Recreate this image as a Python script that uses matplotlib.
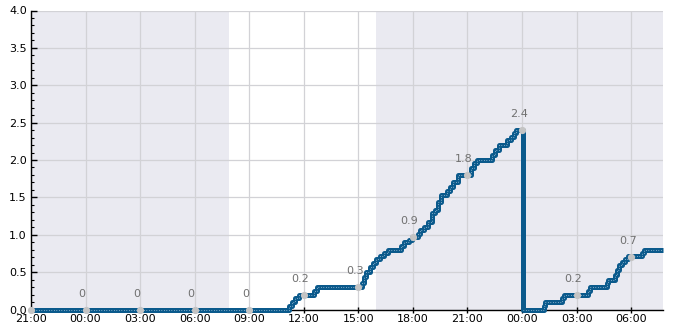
import matplotlib
matplotlib.use("Agg")
import matplotlib.pyplot as plt
import matplotlib.dates as mdates
import pandas as pd
from matplotlib.ticker import MultipleLocator

# ---- data ----
step_times = [
    "2024-01-01 21:00", "2024-01-02 11:11", "2024-01-02 11:22", "2024-01-02 11:32",
    "2024-01-02 11:43", "2024-01-02 12:34", "2024-01-02 12:43", "2024-01-02 15:13",
    "2024-01-02 15:20", "2024-01-02 15:26", "2024-01-02 15:37", "2024-01-02 15:48",
    "2024-01-02 15:59", "2024-01-02 16:10", "2024-01-02 16:24", "2024-01-02 16:38",
    "2024-01-02 17:19", "2024-01-02 17:30", "2024-01-02 17:48", "2024-01-02 17:57",
    "2024-01-02 18:16", "2024-01-02 18:24", "2024-01-02 18:35", "2024-01-02 18:50",
    "2024-01-02 19:02", "2024-01-02 19:12", "2024-01-02 19:23", "2024-01-02 19:34",
    "2024-01-02 19:51", "2024-01-02 20:02", "2024-01-02 20:13", "2024-01-02 20:29",
    "2024-01-02 21:12", "2024-01-02 21:23", "2024-01-02 21:30", "2024-01-02 22:21",
    "2024-01-02 22:32", "2024-01-02 22:44", "2024-01-02 23:10", "2024-01-02 23:22",
    "2024-01-02 23:33", "2024-01-02 23:40", "2024-01-03 00:02", "2024-01-03 01:11",
    "2024-01-03 01:16", "2024-01-03 02:12", "2024-01-03 02:18", "2024-01-03 03:39",
    "2024-01-03 03:45", "2024-01-03 04:40", "2024-01-03 04:45", "2024-01-03 05:08",
    "2024-01-03 05:13", "2024-01-03 05:19", "2024-01-03 05:30", "2024-01-03 05:41",
    "2024-01-03 05:50", "2024-01-03 06:35", "2024-01-03 06:41", "2024-01-03 07:45",
]
step_values = [
    0.00, 0.05, 0.10, 0.15,
    0.20, 0.25, 0.30, 0.35,
    0.44, 0.50, 0.57, 0.62,
    0.67, 0.72, 0.76, 0.80,
    0.85, 0.90, 0.93, 0.97,
    1.01, 1.06, 1.11, 1.17,
    1.29, 1.33, 1.44, 1.53,
    1.58, 1.64, 1.71, 1.80,
    1.89, 1.96, 2.00, 2.07,
    2.13, 2.20, 2.27, 2.31,
    2.36, 2.40, 0.00, 0.05,
    0.10, 0.15, 0.20, 0.25,
    0.30, 0.35, 0.40, 0.46,
    0.53, 0.60, 0.64, 0.68,
    0.71, 0.75, 0.80, 0.80,
]
reset_index = 42  # index in the series where the accumulation resets

marker_times = [
    "2024-01-01 21:00", "2024-01-02 00:00", "2024-01-02 03:00", "2024-01-02 06:00",
    "2024-01-02 09:00", "2024-01-02 12:00", "2024-01-02 15:00", "2024-01-02 18:00",
    "2024-01-02 21:00", "2024-01-03 00:00", "2024-01-03 03:00", "2024-01-03 06:00",
]
marker_values = [0, 0, 0, 0, 0, 0.2, 0.3, 0.97, 1.8, 2.4, 0.2, 0.7]
marker_labels = ["", "0", "0", "0", "0", "0.2", "0.3", "0.9", "1.8", "2.4", "0.2", "0.7"]

night_spans = [
    ("2024-01-01 20:00", "2024-01-02 07:53"),
    ("2024-01-02 15:57", "2024-01-03 09:00"),
]
x_start = "2024-01-01 21:00"
x_end = "2024-01-03 07:45"

# ---- plot ----
fig = plt.figure(figsize=(6.85, 3.3), dpi=100)
ax = fig.add_axes([31 / 685, 20.5 / 330, (663 - 31) / 685, 299 / 330])

for a, b in night_spans:
    ax.axvspan(pd.Timestamp(a), pd.Timestamp(b), color="#eaeaf1", lw=0, zorder=0)

ax.grid(True, color="#d2d2d6", lw=0.9, zorder=1)
ax.set_axisbelow(True)

t = pd.to_datetime(step_times)
ax.plot(t, step_values, drawstyle="steps-post", color="#0b5a8c", lw=3.6,
        solid_capstyle="butt", zorder=3, clip_on=False)

# light dotted core, drawn separately before and after the reset so the drop stays solid
t1 = list(t[:reset_index + 1])
v1 = step_values[:reset_index] + [step_values[reset_index - 1]]
t2 = list(t[reset_index:])
v2 = step_values[reset_index:]
for tt, vv in ((t1, v1), (t2, v2)):
    ax.plot(tt, vv, drawstyle="steps-post", color="#c9dceb", lw=0.6,
            linestyle=(0, (0.8, 2.2)), zorder=4, clip_on=False)

mt = pd.to_datetime(marker_times)
ax.plot(mt, marker_values, linestyle="none", marker="o", ms=5.2,
        color="#c4c4c4", mec="none", zorder=5, clip_on=False)
for x, y, s in zip(mt, marker_values, marker_labels):
    if s:
        ax.annotate(s, (x, y), xytext=(-2.5, 11.5), textcoords="offset points",
                    ha="center", va="center", fontsize=8, color="#707070", zorder=6)

ax.set_xlim(pd.Timestamp(x_start), pd.Timestamp(x_end))
ax.set_ylim(0, 4)
ax.xaxis.set_major_locator(mdates.HourLocator(byhour=range(0, 24, 3)))
ax.xaxis.set_major_formatter(mdates.DateFormatter("%H:%M"))
ax.yaxis.set_major_locator(MultipleLocator(0.5))
ax.yaxis.set_minor_locator(MultipleLocator(0.1))
ax.yaxis.set_major_formatter(matplotlib.ticker.FormatStrFormatter("%.1f"))

for s in ("top", "right"):
    ax.spines[s].set_visible(False)
for s in ("left", "bottom"):
    ax.spines[s].set_color("black")
    ax.spines[s].set_linewidth(1.0)

ax.tick_params(axis="x", direction="inout", length=5, width=1, labelsize=8,
               pad=1, colors="black")
ax.tick_params(axis="y", which="major", direction="in", length=4, width=1,
               labelsize=8, pad=3)
ax.tick_params(axis="y", which="minor", direction="in", length=2, width=0.8)

fig.savefig("out.png", dpi=100)
